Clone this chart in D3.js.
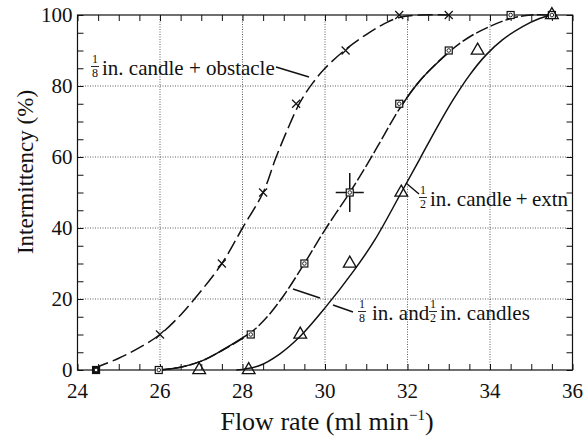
<!DOCTYPE html>
<html>
<head>
<meta charset="utf-8">
<script src="https://cdn.jsdelivr.net/npm/d3@7"></script>
</head>
<body style="margin:0">
<div id="main"></div>
<script>
var width = 586, height = 437;
var margin = {left: 77.5, right: 13.5, top: 15, bottom: 67};
var FONT = "Times New Roman";

// measured markers
var obstacleX = [26, 27.5, 28.5, 29.3, 30.5, 31.8, 33];
var obstacleY = [10, 30, 50, 75, 90, 100, 100];
var candlesX = [24.45, 25.97, 28.2, 29.5, 30.6, 31.8, 33, 34.5, 35.5];
var candlesY = [0, 0, 10, 30, 50, 75, 90, 100, 100];
var extnX = [26.95, 28.15, 29.4, 30.6, 31.85, 33.7, 35.5];
var extnY = [0, 0, 10, 30, 50, 90, 100];

// fitted curves
var obstacleCurveX = [24.4, 25, 25.5, 26, 26.5, 26.8, 27.5, 28, 28.5, 28.8, 29.1, 29.4, 29.7, 30, 30.5, 31, 31.4, 31.8, 32.3, 33];
var obstacleCurveY = [0.5, 3.3, 6.3, 10, 15.5, 19.5, 30, 40, 50, 59.5, 68, 75.5, 80.8, 85, 90.3, 94.5, 97.3, 99.3, 100, 100];
var candlesCurveX = [25.95, 26.5, 27, 27.5, 28.2, 28.6, 29, 29.5, 30, 30.6, 31, 31.4, 31.8, 32.3, 33, 33.5, 34, 34.5, 35, 35.5];
var candlesCurveY = [0, 0.8, 2.5, 5.5, 10.5, 15, 21, 30, 39.5, 50, 57.5, 65.5, 73.5, 81.5, 89.5, 93.8, 96.8, 99, 100, 100];
var extnCurveX = [27.85, 28.4, 28.9, 29.4, 30, 30.7, 31.2, 31.85, 32.3, 32.7, 33.1, 33.5, 33.9, 34.3, 34.8, 35.2, 35.5];
var extnCurveY = [0, 1.2, 4.5, 9.5, 17.5, 28, 36.5, 50, 59.5, 68, 76, 83, 88.7, 93, 96.8, 99, 100];

// error bar on the 50% point
var errPoint = [30.6, 50], errDx = 0.34, errDy = 5.5;

var xTicks = [24, 26, 28, 30, 32, 34, 36];
var yTicks = [0, 20, 40, 60, 80, 100];

var svg = d3.select("#main").append("svg")
  .attr("width", width)
  .attr("height", height)
  .attr("font-family", FONT)
  .style("font-family", FONT);

var x = d3.scaleLinear().domain([24, 36]).range([margin.left, width - margin.right]);
var y = d3.scaleLinear().domain([0, 100]).range([height - margin.bottom, margin.top]);
var x0 = x.range()[0], x1 = x.range()[1], y0 = y.range()[0], y1 = y.range()[1];

function zip(a, b) { return a.map(function (v, i) { return [v, b[i]]; }); }

function txt(sel, size) {
  return sel.attr("font-family", FONT).style("font-size", size + "px").attr("fill", "#111");
}

// grid
var grid = svg.append("g").attr("stroke", "#333").attr("stroke-width", 0.8).attr("stroke-dasharray", "1,1.5");
grid.selectAll(".gx").data(xTicks.slice(1, -1)).enter().append("line")
  .attr("x1", function (d) { return x(d); }).attr("x2", function (d) { return x(d); })
  .attr("y1", y0).attr("y2", y1);
grid.selectAll(".gy").data(yTicks.slice(1, -1)).enter().append("line")
  .attr("y1", function (d) { return y(d); }).attr("y2", function (d) { return y(d); })
  .attr("x1", x0).attr("x2", x1);

// minor ticks on all four sides, pointing in
var xMinor = d3.range(24, 36.01, 0.5), yMinor = d3.range(0, 100.1, 5);
function tickAxis(axis, tr) {
  var g = svg.append("g").attr("transform", tr).call(axis);
  g.select(".domain").remove();
  g.selectAll("text").remove();
  g.selectAll("line").attr("stroke", "#111");
}
tickAxis(d3.axisBottom(x).tickValues(xMinor).tickSize(-6), "translate(0," + y0 + ")");
tickAxis(d3.axisTop(x).tickValues(xMinor).tickSize(-6), "translate(0," + y1 + ")");
tickAxis(d3.axisLeft(y).tickValues(yMinor).tickSize(-6), "translate(" + x0 + ",0)");
tickAxis(d3.axisRight(y).tickValues(yMinor).tickSize(-6), "translate(" + x1 + ",0)");

// tick labels
svg.append("g").selectAll("text").data(xTicks).enter().append("text")
  .attr("x", function (d) { return x(d); }).attr("y", y0 + 28)
  .attr("text-anchor", "middle")
  .call(txt, 21)
  .text(function (d) { return d; });
svg.append("g").selectAll("text").data(yTicks).enter().append("text")
  .attr("x", x0 - 5).attr("y", function (d) { return y(d) + 7; })
  .attr("text-anchor", "end")
  .call(txt, 21)
  .text(function (d) { return d; });

// frame
svg.append("rect").attr("x", x0).attr("y", y1).attr("width", x1 - x0).attr("height", y0 - y1)
  .attr("fill", "none").attr("stroke", "#111").attr("stroke-width", 1.2);

// axis titles
var xt = svg.append("text").attr("x", (x0 + x1) / 2 + 2).attr("y", 430)
  .attr("text-anchor", "middle").call(txt, 26);
xt.append("tspan").text("Flow rate (ml min");
xt.append("tspan").text("\u22121").attr("dy", -10).style("font-size", "15px");
xt.append("tspan").text(")").attr("dy", 10);
svg.append("text").attr("transform", "translate(33,172) rotate(-90)")
  .attr("text-anchor", "middle").call(txt, 23)
  .text("Intermittency (%)");

// curves
var line = d3.line().x(function (d) { return x(d[0]); }).y(function (d) { return y(d[1]); })
  .curve(d3.curveCatmullRom.alpha(0.5));
var curves = svg.append("g").attr("fill", "none").attr("stroke", "#111").attr("stroke-width", 1.5);
curves.append("path").attr("d", line(zip(obstacleCurveX, obstacleCurveY))).attr("stroke-dasharray", "15,5");
var candles = zip(candlesCurveX, candlesCurveY);
curves.append("path").attr("d", line(candles)).attr("stroke-dasharray", "13,3");
curves.append("path").attr("d", line(candles.filter(function (d) { return d[0] <= 28.3; })));
curves.append("path").attr("d", line(candles.filter(function (d) { return d[0] >= 31.8 && d[0] <= 33; })));
curves.append("path").attr("d", line(zip(extnCurveX, extnCurveY)));

// error bar
var eb = svg.append("g").attr("stroke", "#111").attr("stroke-width", 1.5);
eb.append("line").attr("x1", x(errPoint[0] - errDx)).attr("x2", x(errPoint[0] + errDx))
  .attr("y1", y(errPoint[1])).attr("y2", y(errPoint[1]));
eb.append("line").attr("x1", x(errPoint[0])).attr("x2", x(errPoint[0]))
  .attr("y1", y(errPoint[1] - errDy)).attr("y2", y(errPoint[1] + errDy));

// markers
var mk = svg.append("g").attr("stroke", "#111").attr("stroke-width", 1.2);
mk.selectAll(".cross").data(zip(obstacleX, obstacleY)).enter().append("path")
  .attr("fill", "none")
  .attr("d", function (d) {
    var cx = x(d[0]), cy = y(d[1]), s = 4;
    return "M" + (cx - s) + "," + (cy - s) + "L" + (cx + s) + "," + (cy + s) +
      "M" + (cx - s) + "," + (cy + s) + "L" + (cx + s) + "," + (cy - s);
  });
var sq = mk.selectAll(".sq").data(zip(candlesX, candlesY)).enter().append("g")
  .attr("transform", function (d) { return "translate(" + x(d[0]) + "," + y(d[1]) + ")"; });
sq.append("rect").attr("x", -3.5).attr("y", -3.5).attr("width", 7).attr("height", 7)
  .attr("fill", function (d, i) { return i === 0 ? "#111" : "#fff"; });
sq.append("circle").attr("r", 1.8).attr("fill", "#fff").attr("stroke-width", 0.9);
mk.selectAll(".tri").data(zip(extnX, extnY)).enter().append("path")
  .attr("fill", "none").attr("stroke-width", 1.3)
  .attr("transform", function (d) { return "translate(" + x(d[0]) + "," + y(d[1]) + ")"; })
  .attr("d", d3.symbol().type(d3.symbolTriangle).size(70));

// labels with stacked fractions
function frac(cx, base, num, den) {
  var g = svg.append("g");
  g.append("text").attr("x", cx).attr("y", base - 12).attr("text-anchor", "middle").call(txt, 12).text(num);
  g.append("line").attr("x1", cx - 4).attr("x2", cx + 4).attr("y1", base - 8.5).attr("y2", base - 8.5)
    .attr("stroke", "#111").attr("stroke-width", 0.9);
  g.append("text").attr("x", cx).attr("y", base + 2).attr("text-anchor", "middle").call(txt, 12).text(den);
}
function label(xp, base, s) {
  svg.append("text").attr("x", xp).attr("y", base).call(txt, 21).text(s);
}
frac(95, 75, "1", "8");
label(102, 75, "in. candle + obstacle");
frac(423, 206, "1", "2");
label(430, 206, "in. candle\u2009+\u2009extn");
frac(362, 320, "1", "8");
label(372, 320, "in. and");
frac(433, 320, "1", "2");
label(440, 320, "in. candles");

// leader lines
var leaders = [[276, 67, 309, 77], [406, 183, 419, 194], [293, 289, 320, 298], [333, 305, 353, 312]];
svg.append("g").attr("stroke", "#111").attr("stroke-width", 1.4).selectAll("line")
  .data(leaders).enter().append("line")
  .attr("x1", function (d) { return d[0]; }).attr("y1", function (d) { return d[1]; })
  .attr("x2", function (d) { return d[2]; }).attr("y2", function (d) { return d[3]; });
</script>
</body>
</html>
